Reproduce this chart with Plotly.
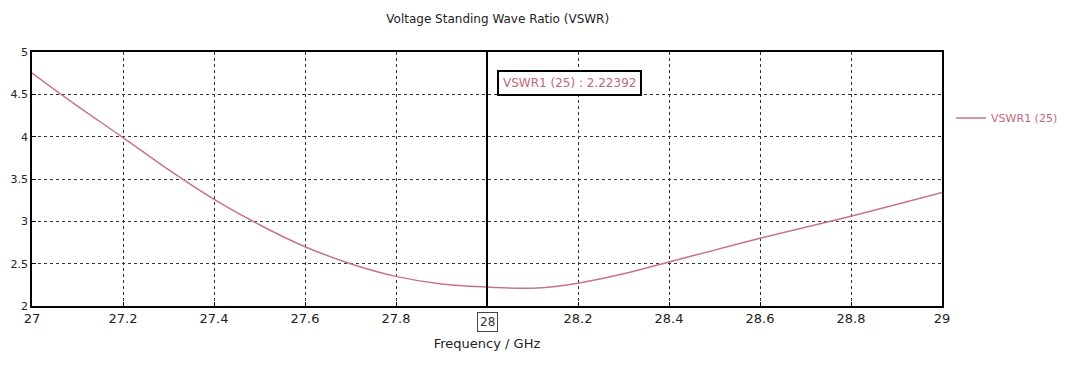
import plotly.graph_objects as go

freq = [27.0, 27.1, 27.2, 27.3, 27.4, 27.5, 27.6, 27.7, 27.8, 27.9, 28.0,
        28.1, 28.2, 28.3, 28.4, 28.5, 28.6, 28.7, 28.8, 28.9, 29.0]
vswr = [4.75, 4.36, 3.99, 3.61, 3.26, 2.96, 2.70, 2.50, 2.35, 2.26, 2.22392,
        2.21, 2.27, 2.38, 2.52, 2.66, 2.80, 2.93, 3.06, 3.20, 3.34]
x_ticks = [27, 27.2, 27.4, 27.6, 27.8, 28, 28.2, 28.4, 28.6, 28.8, 29]
x_tick_text = ["27", "27.2", "27.4", "27.6", "27.8", "", "28.2", "28.4", "28.6", "28.8", "29"]
y_ticks = [2, 2.5, 3, 3.5, 4, 4.5, 5]
marker_x = 28
marker_val = 2.22392
series_name = "VSWR1 (25)"

curve_color = "#c77585"
font_family = "DejaVu Sans"

fig = go.Figure()
fig.add_trace(go.Scatter(
    x=freq, y=vswr, mode="lines", name=series_name,
    line=dict(color=curve_color, width=1.5, shape="spline"),
))

fig.add_shape(type="line", xref="x", yref="paper", x0=marker_x, x1=marker_x,
              y0=0, y1=1, line=dict(color="black", width=2))

fig.add_annotation(xref="x", yref="paper", x=marker_x, y=0.93, xanchor="left",
                   xshift=10, yanchor="top", showarrow=False,
                   text=f"{series_name} : {marker_val}",
                   font=dict(family=font_family, size=12, color="#c0687a"),
                   bordercolor="black", borderwidth=2, borderpad=4, bgcolor="white")
fig.add_annotation(xref="x", yref="paper", x=marker_x, y=0, yshift=-6, yanchor="top",
                   showarrow=False, text=str(marker_x),
                   font=dict(family=font_family, size=12, color="#333333"),
                   bordercolor="#444444", borderwidth=1, borderpad=2, bgcolor="white")

fig.update_layout(
    width=1082, height=370,
    margin=dict(l=32, r=140, t=52, b=64),
    paper_bgcolor="white", plot_bgcolor="white",
    font=dict(family=font_family, size=12, color="#222222"),
    title=dict(text="Voltage Standing Wave Ratio (VSWR)", x=0.46, xanchor="center",
               y=0.96, yanchor="top", font=dict(size=12, color="#222222")),
    showlegend=True,
    legend=dict(x=1.01, y=0.74, xanchor="left", yanchor="middle",
                font=dict(size=11, color="#c0687a"), bgcolor="rgba(0,0,0,0)"),
)
fig.update_xaxes(
    range=[27, 29], tickvals=x_ticks, ticktext=x_tick_text,
    title=dict(text="Frequency / GHz", standoff=14, font=dict(size=13)),
    showline=True, linecolor="black", linewidth=1.5, mirror=True,
    showgrid=True, gridcolor="#333333", griddash="dot", gridwidth=1,
    ticks="inside", ticklen=4, tickcolor="black", zeroline=False,
    tickfont=dict(size=13),
)
fig.update_yaxes(
    range=[2, 5], tickvals=y_ticks,
    showline=True, linecolor="black", linewidth=1.5, mirror=True,
    showgrid=True, gridcolor="#333333", griddash="dot", gridwidth=1,
    ticks="inside", ticklen=4, tickcolor="black", zeroline=False,
    tickfont=dict(size=11),
)

fig.write_html("out.html")
